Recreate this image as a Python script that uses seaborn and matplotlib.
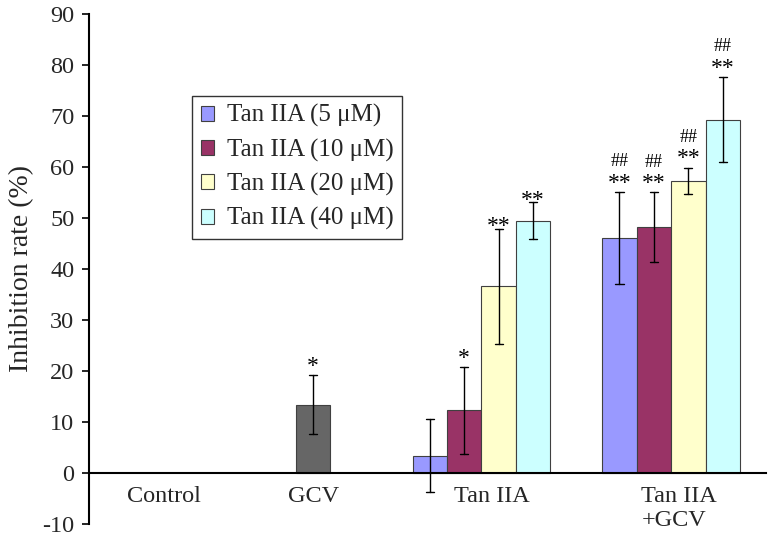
import numpy as np
import pandas as pd
import seaborn as sns
import matplotlib.pyplot as plt
from matplotlib.patches import Patch
from matplotlib.transforms import ScaledTranslation

GROUPS = ["Control", "GCV", "Tan IIA", "Tan IIA\n+GCV"]
DOSES = ["Tan IIA (5 μM)", "Tan IIA (10 μM)", "Tan IIA (20 μM)", "Tan IIA (40 μM)"]
DOSE_COLORS = ["#9999FF", "#993366", "#FFFFCC", "#CCFFFF"]
GCV_COLOR = "#666666"

# means and SD (inhibition rate, %)
GCV_MEAN = [13.4]
GCV_SD = [5.8]
TAN_MEAN = [3.4, 12.3, 36.6, 49.5]
TAN_SD = [7.1, 8.5, 11.3, 3.7]
COMBO_MEAN = [46.1, 48.2, 57.3, 69.3]
COMBO_SD = [9.0, 6.8, 2.6, 8.4]

# significance marks
GCV_MARK = ["*"]
TAN_MARK = ["", "*", "**", "**"]
COMBO_MARK = ["**", "**", "**", "**"]
COMBO_MARK2 = ["##", "##", "##", "##"]

# layout: the groups in the original are not equally wide
group_w = np.array([0.795, 0.774, 1.0, 1.0])
edges = np.concatenate([[0], np.cumsum(group_w)])
centers = edges[:-1] + group_w / 2
BAR_W = 0.1816
label_shift_px = [0, 0, 10, 8]


def spread(x, means, sds, labels):
    # two rows per bar (mean-sd, mean+sd): the mean is the bar, the span the error bar
    rows = []
    for m, s, lab in zip(means, sds, labels):
        rows.append((x, m - s, lab))
        rows.append((x, m + s, lab))
    return pd.DataFrame(rows, columns=["x", "value", "dose"])


tan_df = pd.concat([spread(centers[2], TAN_MEAN, TAN_SD, DOSES),
                    spread(centers[3], COMBO_MEAN, COMBO_SD, DOSES)])
gcv_df = spread(centers[1], GCV_MEAN, GCV_SD, ["GCV"])

sns.set_style("white")
plt.rcParams["font.family"] = ["Liberation Serif", "DejaVu Serif"]
plt.rcParams["axes.unicode_minus"] = False

fig = plt.figure(figsize=(7.74, 5.38), dpi=100)
ax = fig.add_axes([89 / 774, 14 / 538, 677 / 774, 510 / 538])

span = lambda v: (v.min(), v.max())
err_kws = {"color": "black", "linewidth": 1.0}

sns.barplot(data=tan_df, x="x", y="value", hue="dose", hue_order=DOSES,
            palette=dict(zip(DOSES, DOSE_COLORS)), native_scale=True,
            width=4 * BAR_W, errorbar=span, capsize=0.17, err_kws=err_kws,
            saturation=1, edgecolor="#404040", linewidth=0.8, legend=False, ax=ax)
sns.barplot(data=gcv_df, x="x", y="value", native_scale=True, width=BAR_W,
            color=GCV_COLOR, errorbar=span, capsize=0.045, err_kws=err_kws,
            saturation=1, edgecolor="#404040", linewidth=0.8, ax=ax)

ax.set_xlim(0, edges[-1])
ax.set_ylim(-10, 90)
ax.set_yticks(np.arange(-10, 91, 10))
ax.set_xlabel("")
ax.set_ylabel("Inhibition rate (%)", fontsize=20, labelpad=6)

for side in ["top", "right"]:
    ax.spines[side].set_visible(False)
ax.spines["bottom"].set_position(("data", 0))
for side in ["left", "bottom"]:
    ax.spines[side].set_color("black")
    ax.spines[side].set_linewidth(1.5)

ax.set_xticks(edges[1:], [""] * 4)
ax.set_xticks(centers, GROUPS, minor=True)
ax.tick_params(axis="x", which="major", direction="in", length=4, width=1.2, color="black")
ax.tick_params(axis="x", which="minor", length=0, pad=9, labelsize=17.5)
ax.tick_params(axis="y", direction="out", length=5, width=1.2, color="black",
               labelsize=17.5, pad=5.5, left=True)
for lab, dx in zip(ax.get_xticklabels(minor=True), label_shift_px):
    lab.set_multialignment("left")
    lab.set_linespacing(1.25)
    lab.set_transform(lab.get_transform() + ScaledTranslation(dx / 100, 0, fig.dpi_scale_trans))

# significance marks
star_kw = dict(ha="center", va="baseline", fontsize=17, color="black")
hash_kw = dict(ha="center", va="baseline", fontsize=13, color="black")
ax.text(centers[1], GCV_MEAN[0] + GCV_SD[0] + 0.6, GCV_MARK[0], **star_kw)
tan_gap = [0, 0.6, -0.6, -0.9]
for i in range(4):
    xb = centers[2] + (i - 1.5) * BAR_W
    if TAN_MARK[i]:
        ax.text(xb, TAN_MEAN[i] + TAN_SD[i] + tan_gap[i], TAN_MARK[i], **star_kw)
    xc = centers[3] + (i - 1.5) * BAR_W
    top = COMBO_MEAN[i] + COMBO_SD[i]
    ax.text(xc, top + 0.6, COMBO_MARK[i], **star_kw)
    ax.text(xc, top + 5.0, COMBO_MARK2[i], **hash_kw)

handles = [Patch(facecolor=c, edgecolor="#404040", linewidth=0.8) for c in DOSE_COLORS]
leg = ax.legend(handles, DOSES, loc="upper left", bbox_to_anchor=(0.152, 0.84),
                borderaxespad=0, fontsize=18, frameon=True, fancybox=False,
                handlelength=0.55, handleheight=0.55, handletextpad=0.5,
                labelspacing=0.45, borderpad=0.35)
leg.get_frame().set_edgecolor("black")
leg.get_frame().set_linewidth(1.0)

fig.savefig("out.png", dpi=100)
